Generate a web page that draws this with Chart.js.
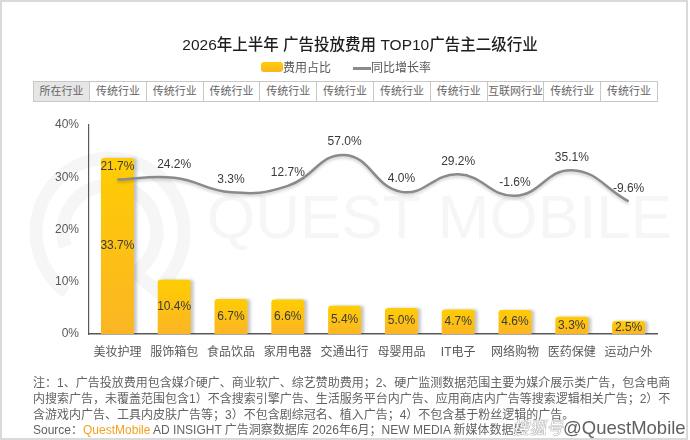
<!DOCTYPE html>
<html>
<head>
<meta charset="utf-8">
<script src="https://cdn.jsdelivr.net/npm/chart.js@4.4.1/dist/chart.umd.min.js"></script>
<style>
  html,body{margin:0;padding:0;background:#fff;}
  body{width:690px;height:440px;position:relative;overflow:hidden;
       font-family:"Liberation Sans","Noto Sans CJK SC",sans-serif;}
  #c{position:absolute;left:0;top:0;}
  .frame{position:absolute;left:0;top:0;width:688px;height:440px;box-sizing:border-box;border:2px solid #dadada;pointer-events:none;}
  .title{position:absolute;left:360px;top:32px;transform:translateX(-50%);white-space:nowrap;
         font-size:15.5px;font-weight:500;color:#1e1e1e;}
  .legend{position:absolute;top:59px;left:261px;font-size:12px;color:#595959;white-space:nowrap;height:18px;}
  .legend span{position:absolute;top:0;line-height:18px;}
  .sw{position:absolute;left:0;top:3px;width:22px;height:10px;border-radius:3px;background:linear-gradient(#FFCD03,#FBB524);}
  .ln{position:absolute;left:92px;top:8px;width:18px;height:2.5px;background:#8a8a8a;}
  .cell{position:absolute;top:81px;height:21px;box-sizing:border-box;border:1px solid #c8c8c8;
        font-size:11px;color:#666;text-align:center;line-height:19px;background:#fff;white-space:nowrap;}
  .note{position:absolute;left:33px;font-size:12px;color:#626262;white-space:nowrap;line-height:16px;}
  .wm{position:absolute;left:512px;top:417px;white-space:nowrap;line-height:22px;}
</style>
</head>
<body>
<canvas id="c" width="690" height="440"></canvas>
<div class="frame"></div>
<div class="title" id="title"></div>
<div class="legend" id="legend"></div>
<div id="table"></div>
<div id="notes"></div>
<script>
const titleText = "2026年上半年 广告投放费用 TOP10广告主二级行业";
const seriesNames = ["费用占比", "同比增长率"];
const categories = ["美妆护理","服饰箱包","食品饮品","家用电器","交通出行","母婴用品","IT电子","网络购物","医药保健","运动户外"];
const shareValues = [33.7, 10.4, 6.7, 6.6, 5.4, 5.0, 4.7, 4.6, 3.3, 2.5];
const growthValues = [21.7, 24.2, 3.3, 12.7, 57.0, 4.0, 29.2, -1.6, 35.1, -9.6];
const yTicks = [0, 10, 20, 30, 40];
const tableHeader = "所在行业";
const industryTypes = ["传统行业","传统行业","传统行业","传统行业","传统行业","传统行业","传统行业","互联网行业","传统行业","传统行业"];
const noteLines = [
  "注：1、广告投放费用包含媒介硬广、商业软广、综艺赞助费用；2、硬广监测数据范围主要为媒介展示类广告，包含电商",
  "内搜索广告，未覆盖范围包含1）不含搜索引擎广告、生活服务平台内广告、应用商店内广告等搜索逻辑相关广告；2）不",
  "含游戏内广告、工具内皮肤广告等；3）不包含剧综冠名、植入广告；4）不包含基于粉丝逻辑的广告。"
];
const sourceParts = ["Source：", "QuestMobile", " AD INSIGHT 广告洞察数据库 2026年6月；NEW MEDIA 新媒体数据库"];

// Title, legend
document.getElementById('title').textContent = titleText;
const lg = document.getElementById('legend');
lg.innerHTML = '<div class="sw"></div><span style="left:22px">'+seriesNames[0]+'</span>'+
               '<div class="ln"></div><span style="left:110px">'+seriesNames[1]+'</span>';

// Industry row
const tbl = document.getElementById('table');
const plotL = 89, plotR = 657, cw = (plotR - plotL) / categories.length;
function addCell(x, w, txt, bg){
  const d = document.createElement('div');
  d.className = 'cell';
  d.style.left = x + 'px'; d.style.width = (w + 1) + 'px';
  if (bg) d.style.background = bg;
  d.textContent = txt;
  tbl.appendChild(d);
}
addCell(33, plotL - 33, tableHeader, '#e6e6e6');
industryTypes.forEach((t, i) => addCell(plotL + i * cw, cw, t));

// Notes
const nt = document.getElementById('notes');
noteLines.forEach((t, i) => {
  const d = document.createElement('div');
  d.className = 'note'; d.style.top = (375 + i * 16) + 'px'; d.textContent = t;
  nt.appendChild(d);
});
const src = document.createElement('div');
src.className = 'note'; src.style.top = (375 + 3 * 15.5) + 'px';
src.innerHTML = sourceParts[0] + '<span style="color:#F5A01E">' + sourceParts[1] + '</span>' + sourceParts[2];
nt.appendChild(src);
const wm = document.createElement('div');
wm.className = 'wm';
wm.innerHTML = '<span style="font-size:17px;color:#fff;text-shadow:0 0 1px #777,0 0 1px #777;font-style:italic">搜狐号</span>' +
               '<span style="font-size:18.5px;color:#606060">@QuestMobile</span>';
nt.appendChild(wm);

// Chart
const FONT = '"Liberation Sans","Noto Sans CJK SC",sans-serif';

const bgWatermark = {
  id: 'bgWatermark',
  beforeDraw(chart){
    const ctx = chart.ctx;
    ctx.save();
    ctx.strokeStyle = '#f6f6f6';
    ctx.lineWidth = 13;
    ctx.beginPath(); ctx.arc(110, 232, 74, Math.PI * 0.7, Math.PI * 2.3); ctx.stroke();
    ctx.beginPath(); ctx.arc(110, 232, 47, Math.PI * 0.9, Math.PI * 2.5); ctx.stroke();
    ctx.beginPath(); ctx.moveTo(122, 262); ctx.lineTo(180, 310); ctx.stroke();
    ctx.fillStyle = '#f6f6f6';
    ctx.font = '62px ' + FONT;
    ctx.textBaseline = 'alphabetic';
    ctx.fillText('QUEST MOBILE', 207, 238);
    ctx.restore();
  }
};

const shadows = {
  id: 'shadows',
  beforeDatasetDraw(chart, args){
    const ctx = chart.ctx;
    ctx.save();
    if (args.index === 0) {
      ctx.shadowColor = 'rgba(0,0,0,0.22)';
      ctx.shadowOffsetX = 3; ctx.shadowOffsetY = 0; ctx.shadowBlur = 3;
    } else {
      ctx.shadowColor = 'rgba(0,0,0,0.2)';
      ctx.shadowOffsetX = 0; ctx.shadowOffsetY = 2; ctx.shadowBlur = 3;
    }
  },
  afterDatasetDraw(chart){ chart.ctx.restore(); }
};

const valueLabels = {
  id: 'valueLabels',
  afterDatasetsDraw(chart){
    const ctx = chart.ctx;
    ctx.save();
    ctx.font = '12px ' + FONT;
    ctx.fillStyle = '#3a3a3a';
    ctx.textAlign = 'center';
    ctx.textBaseline = 'middle';
    const bars = chart.getDatasetMeta(0).data;
    bars.forEach((b, i) => {
      ctx.fillText(shareValues[i].toFixed(1) + '%', b.x, (b.y + b.base) / 2);
    });
    const pts = chart.getDatasetMeta(1).data;
    pts.forEach((p, i) => {
      ctx.fillText(growthValues[i].toFixed(1) + '%', p.x, p.y - 13);
    });
    ctx.restore();
  }
};

function barGradient(context){
  const chart = context.chart;
  const ys = chart.scales.y;
  if (!ys || context.dataIndex === undefined) return '#FDC312';
  const v = context.raw;
  const top = ys.getPixelForValue(v), bot = ys.getPixelForValue(0);
  if (!isFinite(top) || !isFinite(bot) || top === bot) return '#FDC312';
  const g = chart.ctx.createLinearGradient(0, top, 0, bot);
  g.addColorStop(0, '#FFCD03');
  g.addColorStop(1, '#FBB524');
  return g;
}

new Chart(document.getElementById('c'), {
  data: {
    labels: categories,
    datasets: [
      {
        type: 'bar', label: seriesNames[0], data: shareValues, yAxisID: 'y', order: 1,
        backgroundColor: barGradient,
        borderRadius: {topLeft: 3, topRight: 3, bottomLeft: 0, bottomRight: 0},
        borderSkipped: 'bottom',
        categoryPercentage: 1, barPercentage: 0.58
      },
      {
        type: 'line', label: seriesNames[1], data: growthValues, yAxisID: 'y2', order: 0,
        borderColor: '#8a8a8a', borderWidth: 2.5, tension: 0.45,
        pointRadius: 0, pointHoverRadius: 0, fill: false, cubicInterpolationMode: 'default'
      }
    ]
  },
  options: {
    responsive: false, animation: false, devicePixelRatio: 1,
    layout: { padding: { left: 0, right: 33, top: 125, bottom: 80 } },
    plugins: { legend: { display: false }, title: { display: false }, tooltip: { enabled: false } },
    scales: {
      x: {
        grid: { display: false, drawTicks: false },
        border: { display: true, color: '#595959', width: 1.5 },
        ticks: { color: '#595959', font: { size: 12, family: FONT }, padding: 11, maxRotation: 0, autoSkip: false },
        afterFit(s){ s.height = 26; }
      },
      y: {
        min: 0, max: 40,
        afterBuildTicks(s){ s.ticks = yTicks.map(v => ({ value: v })); },
        grid: { display: false, drawTicks: false },
        border: { display: true, color: '#595959', width: 1.2 },
        ticks: { color: '#595959', font: { size: 12, family: FONT }, padding: 10, callback: v => v + '%' },
        afterFit(s){ s.width = 89; }
      },
      y2: { min: -200, max: 100, display: false }
    }
  },
  plugins: [bgWatermark, shadows, valueLabels]
});
</script>
</body>
</html>
